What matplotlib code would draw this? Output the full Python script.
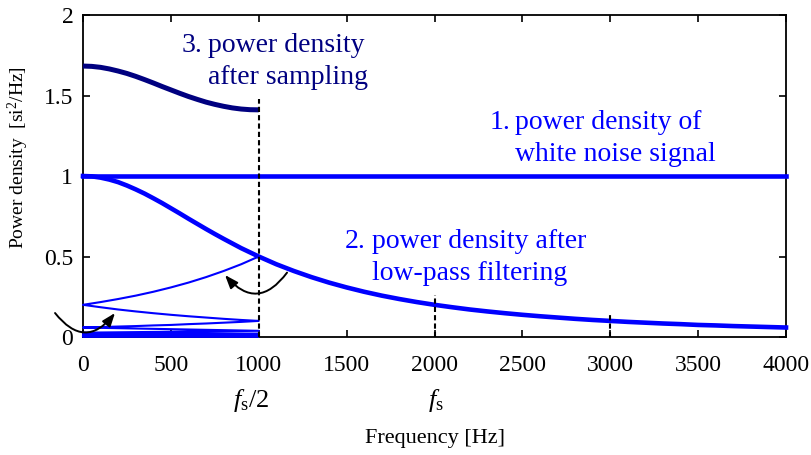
import numpy as np
import matplotlib
matplotlib.use('Agg')
import matplotlib.pyplot as plt
from matplotlib.ticker import FuncFormatter

plt.rcParams['font.family'] = 'Liberation Serif'
plt.rcParams['mathtext.fontset'] = 'custom'
plt.rcParams['mathtext.rm'] = 'Liberation Serif'
plt.rcParams['mathtext.it'] = 'Liberation Serif:italic'

fs = 2000  # sampling frequency [Hz]

# spectrum after low-pass filtering: 50 Hz steps below 1 kHz, 100 Hz steps above
freq = np.r_[0:1000:50, 1000:4001:100]
filtered = [1.000, 0.998, 0.990, 0.978, 0.962, 0.941, 0.917, 0.891, 0.862, 0.832,
            0.800, 0.768, 0.735, 0.703, 0.671, 0.640, 0.610, 0.581, 0.552, 0.526,
            0.500, 0.452, 0.410, 0.372, 0.338, 0.308, 0.281, 0.257, 0.236, 0.217,
            0.200, 0.185, 0.171, 0.159, 0.148, 0.138, 0.129, 0.121, 0.113, 0.106,
            0.100, 0.094, 0.089, 0.084, 0.080, 0.075, 0.072, 0.068, 0.065, 0.062,
            0.059]
white_level = 1.0

# filter response further out (above the plotted range), folded back as well
tail_freq = [5000, 6000, 7000, 8000, 9000, 10000, 11000, 12000, 13000, 14000, 15000, 16000]
tail_level = [0.0385, 0.027, 0.020, 0.0154, 0.0122, 0.0099, 0.0082, 0.0069, 0.0059,
              0.0051, 0.0044, 0.0039]

# summed spectrum after sampling, 0..fs/2 in 50 Hz steps
sampled_freq = np.arange(0, 1001, 50)
sampled = [1.683, 1.681, 1.675, 1.665, 1.652, 1.637, 1.619, 1.599, 1.578, 1.556,
           1.535, 1.514, 1.494, 1.476, 1.459, 1.445, 1.433, 1.423, 1.416, 1.412, 1.411]

# dashed markers at fs/2, fs, 3fs/2
mark_freq = [1000, 2000, 3000]
mark_top = [1.48, 0.26, 0.14]

blue = '#0000ff'
navy = '#000080'

fig = plt.figure(figsize=(8.12, 4.55), dpi=100)
ax = fig.add_axes([0.1022, 0.2593, 0.8658, 0.7077])

# alias components folded into 0..fs/2
hi = freq >= fs / 2
alias_f = np.concatenate([freq[hi], tail_freq])
alias_v = np.concatenate([np.asarray(filtered)[hi], tail_level])
alias_x = np.abs(alias_f - fs * np.round(alias_f / fs))
ax.plot(alias_x, alias_v, color=blue, lw=1.5, zorder=3, clip_on=False)

ax.plot(freq[[0, -1]], [white_level, white_level], color=blue, lw=3.3, zorder=3, clip_on=False)
ax.plot(freq, filtered, color=blue, lw=3.3, zorder=3, clip_on=False)
ax.plot(sampled_freq, sampled, color=navy, lw=3.6, zorder=3, clip_on=False,
        solid_capstyle='butt')

for f, top in zip(mark_freq, mark_top):
    ax.plot([f, f], [0, top], color='k', lw=1.5, ls=(0, (2.5, 1.5)), zorder=4, clip_on=False)

# curved arrows
arrow = dict(arrowstyle='-|>,head_length=0.8,head_width=0.3', color='k', lw=1.4,
             shrinkA=0, shrinkB=0)
ax.annotate('', xy=(808, 0.385), xytext=(1161, 0.40),
            arrowprops=dict(arrow, connectionstyle='arc3,rad=-0.62'), annotation_clip=False)
ax.annotate('', xy=(182, 0.149), xytext=(-159, 0.149),
            arrowprops=dict(arrow, connectionstyle='arc3,rad=0.63'), annotation_clip=False)


def label(num, lines, x_num, x_txt, y, color):
    ax.text(x_num, y, num, color=color, fontsize=20, va='baseline')
    for i, line in enumerate(lines):
        ax.annotate(line, (x_txt, y), xytext=(0, -23 * i), textcoords='offset points',
                    color=color, fontsize=20, va='baseline')


label('1.', ['power density of', 'white noise signal'], 2316, 2458, 1.292, blue)
label('2.', ['power density after', 'low-pass filtering'], 1491, 1644, 0.553, blue)
label('3.', ['power density', 'after sampling'], 563, 711, 1.770, navy)

ax.set_xlim(0, 4000)
ax.set_ylim(0, 2)
ax.set_xticks(np.arange(0, 4001, 500))
ax.set_yticks([0, 0.5, 1, 1.5, 2])
ax.yaxis.set_major_formatter(FuncFormatter(lambda v, p: '%g' % v))
ax.tick_params(direction='in', top=True, right=True, length=5, width=1.2,
               labelsize=17, color='k')
ax.tick_params(axis='x', pad=13)
ax.tick_params(axis='y', pad=7)
for s in ax.spines.values():
    s.set_linewidth(1.3)

tr = ax.get_xaxis_transform()
ax.text(955, -0.196, r'$f_\mathrm{s}/2$', transform=tr, ha='center', va='center', fontsize=19)
ax.text(2010, -0.196, r'$f_\mathrm{s}$', transform=tr, ha='center', va='center', fontsize=19)

ax.set_xlabel('Frequency [Hz]', fontsize=16, va='center')
ax.xaxis.set_label_coords(0.5, -0.314)
ax.set_ylabel(r'Power density  [si$^2$/Hz]', fontsize=14, va='center')
ax.yaxis.set_label_coords(-0.0925, 0.557)

fig.savefig('out.png', dpi=100)
